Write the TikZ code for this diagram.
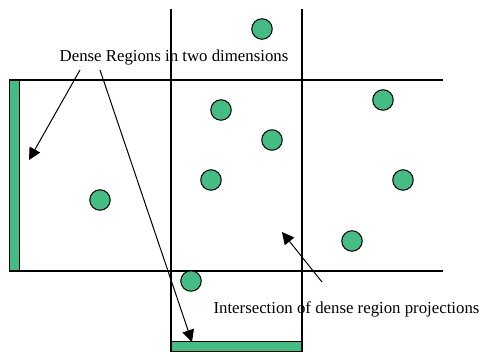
\documentclass[tikz,border=0pt]{standalone}
\usepackage{fontspec}
\setmainfont{Liberation Serif}
\usetikzlibrary{arrows.meta}
\definecolor{dgreen}{RGB}{67,189,132}
\begin{document}
\begin{tikzpicture}[x=1pt,y=-1pt,
  ln/.style={line width=1.1pt},
  dot/.style={circle,draw,line width=1pt,fill=dgreen,minimum size=20.5pt,inner sep=0pt},
  bar/.style={draw,line width=1pt,fill=dgreen},
  arr/.style={line width=1pt,-{Triangle[length=12pt,width=12pt]}},
  lbl/.style={font=\fontsize{16.8}{19}\selectfont,inner sep=0pt}]
\useasboundingbox (0,0) rectangle (483,352);
\draw[bar] (9,80) rectangle (19,271);
\draw[bar] (171,342) rectangle (302,352);
\draw[ln] (171,9) -- (171,352);
\draw[ln] (302,9) -- (302,352);
\draw[ln] (9,80) -- (443,80);
\draw[ln] (9,271) -- (443,271);
\node[dot] (c1) at (262,29) {};
\node[dot] (c2) at (221,110) {};
\node[dot] (c3) at (272,140) {};
\node[dot] (c4) at (211,180) {};
\node[dot] (c5) at (100,200) {};
\node[dot] (c6) at (383,100) {};
\node[dot] (c7) at (403,180) {};
\node[dot] (c8) at (352,241) {};
\node[dot] (c9) at (191,281) {};
\node[lbl] (t1) at (174,57) {Dense Regions in two dimensions};
\node[lbl] (t2) at (346.5,309) {Intersection of dense region projections};
\coordinate (a1s) at (80,70);
\coordinate (a1e) at (29,160);
\coordinate (a2s) at (100,70);
\coordinate (a2e) at (192,342);
\coordinate (a3s) at (322,282);
\coordinate (a3e) at (282,232);
\draw[arr] (a1s) -- (a1e);
\draw[arr] (a2s) -- (a2e);
\draw[arr] (a3s) -- (a3e);
\end{tikzpicture}
\end{document}
